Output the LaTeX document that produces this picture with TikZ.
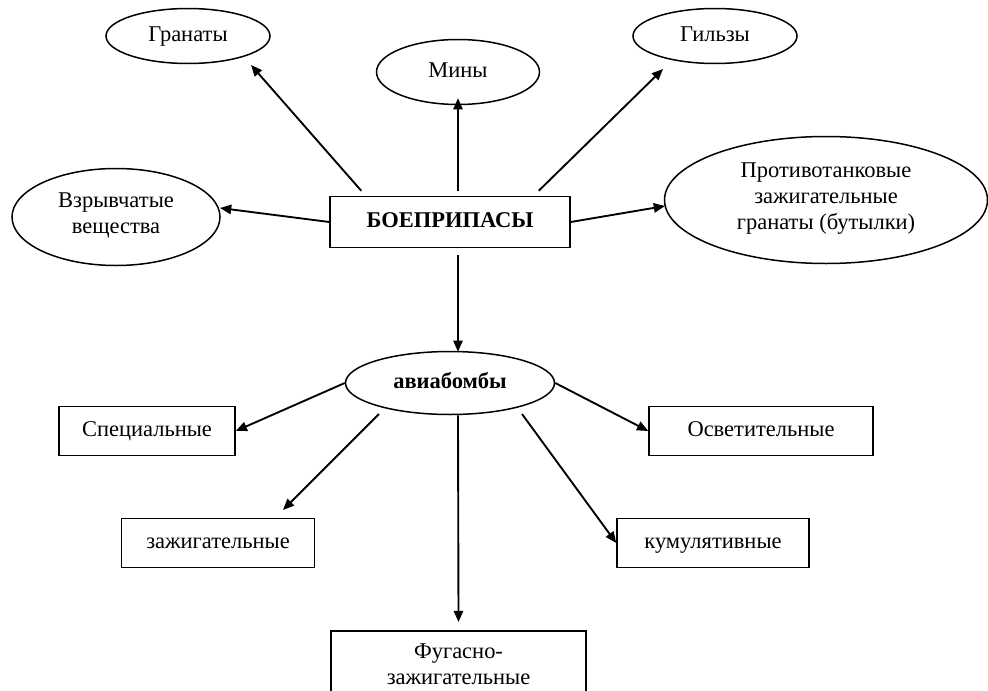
\documentclass[tikz,border=0pt]{standalone}
\usepackage{fontspec}
\setmainfont{Liberation Serif}
\usetikzlibrary{positioning, arrows.meta, shapes.geometric}

\newcommand{\unitpx}{0.01875cm}

\begin{document}
\begin{tikzpicture}[
  x=\unitpx, y=-\unitpx,
  align=center,
  font=\fontsize{12}{13.8}\selectfont,
  % Estilos de bloques
  oval/.style={draw, ellipse, inner sep=0pt, line width=0.8pt, execute at begin node={\strut}},
  box/.style={draw, rectangle, inner sep=0pt, line width=0.8pt, minimum height=49*\unitpx, execute at begin node={\strut}},
  % Estilos de flechas
  line/.style={draw, -{Triangle[length=6pt, width=5pt]}, line width=1pt}
]
  \useasboundingbox (0,0) rectangle (988,691);

  % ==========================================
  % CENTRAL BLOCK
  % ==========================================
  \node[box, minimum width=240*\unitpx, minimum height=51*\unitpx] (boe) at (450,222) {\textbf{БОЕПРИПАСЫ}};

  % ==========================================
  % UPPER GROUP
  % ==========================================
  \node[oval, minimum width=164*\unitpx, minimum height=55*\unitpx] (granaty) at (188,36) {Гранаты};
  \node[oval, minimum width=163*\unitpx, minimum height=65*\unitpx] (miny) at (458,72) {Мины};
  \node[oval, minimum width=164*\unitpx, minimum height=55*\unitpx] (gilzy) at (715,36) {Гильзы};
  \node[oval, minimum width=208*\unitpx, minimum height=97*\unitpx] (vzryv) at (116,217) {Взрывчатые\\вещества};
  \node[oval, minimum width=323*\unitpx, minimum height=127*\unitpx] (ptg) at (826,200) {Противотанковые\\зажигательные\\гранаты (бутылки)};

  \draw[line] ([shift={(32,-5)}]boe.north west) -- ([shift={(63,29)}]granaty.center);
  \draw[line] ([shift={(8,-5)}]boe.north) -- ([shift={(0,-7)}]miny.south);
  \draw[line] ([shift={(-32,-5)}]boe.north east) -- ([shift={(-52,33)}]gilzy.center);
  \draw[line] (boe.west) -- ([shift={(104,-9)}]vzryv.center);
  \draw[line] (boe.east) -- ([shift={(-161,6)}]ptg.center);

  % ==========================================
  % AVIABOMBS
  % ==========================================
  \node[oval, minimum width=209*\unitpx, minimum height=63*\unitpx] (avia) at (450,383) {\textbf{авиабомбы}};
  \draw[line] ([shift={(8,7)}]boe.south) -- ([shift={(8,1)}]avia.north);

  \node[box, minimum width=176*\unitpx] (spec) at (147,431) {Специальные};
  \node[box, minimum width=193*\unitpx] (zazh) at (218,543) {зажигательные};
  \node[box, minimum width=224*\unitpx] (osv) at (761,431) {Осветительные};
  \node[box, minimum width=192*\unitpx] (kum) at (713,543) {кумулятивные};
  \node[box, anchor=north, minimum width=255*\unitpx, minimum height=74*\unitpx] (fug) at (458.5,630) {Фугасно-\\зажигательные};

  \draw[line] (avia.west) -- (spec.east);
  \draw[line] ([shift={(-71,31)}]avia.center) -- ([shift={(65,-33)}]zazh.center);
  \draw[line] ([shift={(8,0)}]avia.south) -- ([shift={(0,-8)}]fug.north);
  \draw[line] (avia.east) -- (osv.west);
  \draw[line] ([shift={(72,31)}]avia.center) -- (kum.west);

\end{tikzpicture}
\end{document}
